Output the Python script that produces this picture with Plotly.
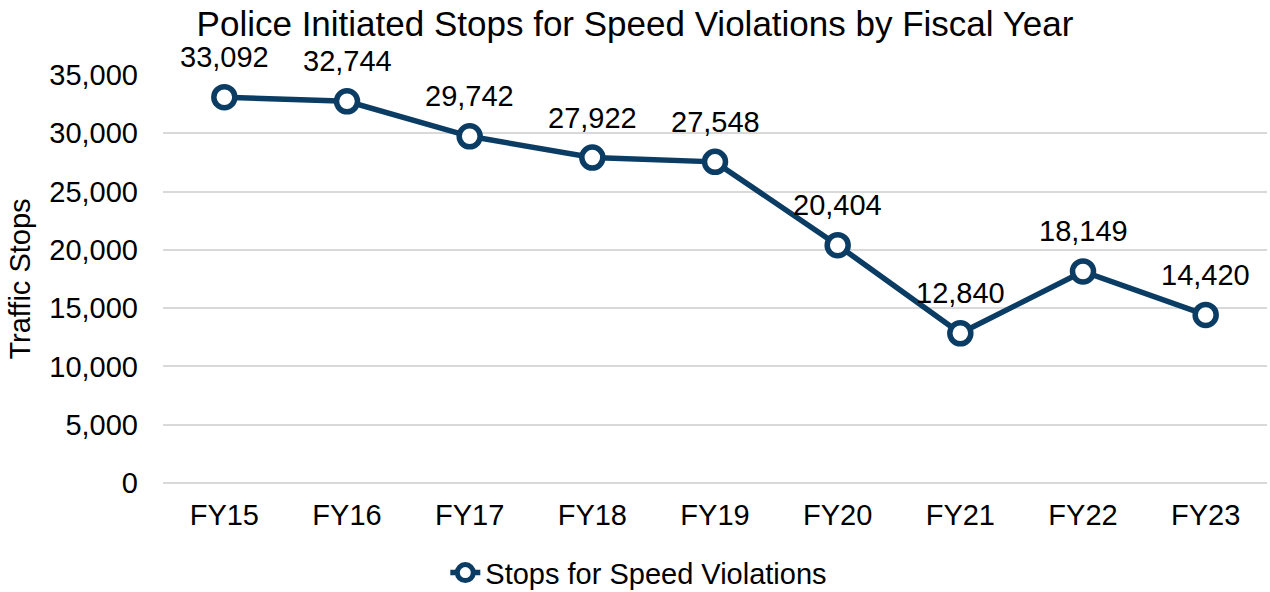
import plotly.graph_objects as go

categories = ["FY15", "FY16", "FY17", "FY18", "FY19", "FY20", "FY21", "FY22", "FY23"]
stops = [33092, 32744, 29742, 27922, 27548, 20404, 12840, 18149, 14420]
y_ticks = [0, 5000, 10000, 15000, 20000, 25000, 30000, 35000]

color = "#0b3c64"
font_family = "Liberation Sans, Arial, sans-serif"

fig = go.Figure()
fig.add_trace(go.Scatter(
    x=categories, y=stops,
    mode="lines+markers",
    name="Stops for Speed Violations",
    line=dict(color=color, width=5.5),
    marker=dict(size=21, color="white", line=dict(color=color, width=5.5)),
    cliponaxis=False,
))

for c, v in zip(categories, stops):
    fig.add_annotation(x=c, y=v, text=f"{v:,}", showarrow=False,
                       xanchor="center", yanchor="middle", yshift=40,
                       font=dict(size=29, color="#000000", family=font_family))

fig.update_layout(
    width=1270, height=592,
    paper_bgcolor="white", plot_bgcolor="white",
    margin=dict(l=163, r=3, t=75, b=109, autoexpand=False),
    title=dict(text="Police Initiated Stops for Speed Violations by Fiscal Year",
               x=0.5, xref="container", xanchor="center", y=0.96, yanchor="middle",
               font=dict(size=35, color="#000000", family=font_family)),
    font=dict(family=font_family, color="#000000"),
    showlegend=True,
    legend=dict(orientation="h", x=0.503, xanchor="center", xref="container",
                y=-0.22, yanchor="middle",
                font=dict(size=29, color="#000000", family=font_family)),
    xaxis=dict(type="category", range=[-0.5, 8.5], showgrid=False, showline=False,
               ticks="", tickfont=dict(size=29), ticklabelstandoff=12),
    yaxis=dict(range=[0, 35000], tickvals=y_ticks, tickformat=",",
               showgrid=True, gridcolor="#d9d9d9", gridwidth=1.5,
               zeroline=True, zerolinecolor="#d9d9d9", zerolinewidth=1.5,
               showline=False, ticks="", tickfont=dict(size=29),
               ticklabelstandoff=24,
               title=dict(text="Traffic Stops", font=dict(size=29), standoff=10)),
)

fig.write_html("out.html", config={"displayModeBar": False},
               post_script="document.body.style.margin='0';document.body.style.padding='0';")
